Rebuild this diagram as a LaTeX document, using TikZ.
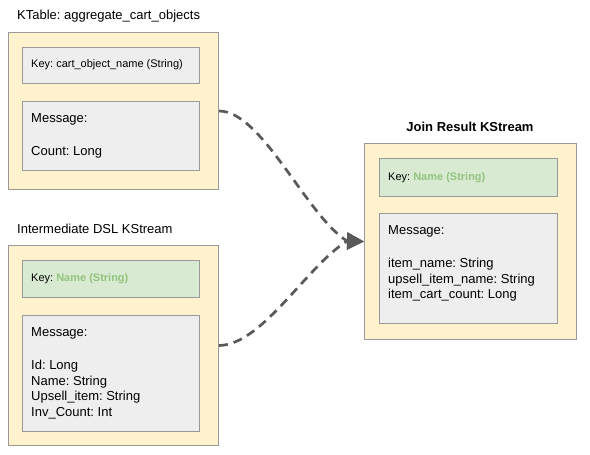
\documentclass[tikz,border=0pt]{standalone}
\usepackage{fontspec}
\setmainfont{Liberation Sans}
\frenchspacing
\usetikzlibrary{arrows.meta}
\definecolor{boxyellow}{HTML}{FFF2CC}
\definecolor{boxgrey}{HTML}{EEEEEE}
\definecolor{boxgreen}{HTML}{D9EAD3}
\definecolor{keytext}{HTML}{93C47D}
\definecolor{edgegrey}{HTML}{999999}
\definecolor{linkgrey}{HTML}{595959}
\begin{document}
\begin{tikzpicture}[x=1pt,y=-1pt,
    outerbox/.style={draw=edgegrey,line width=1pt,fill=boxyellow,anchor=north west,inner sep=0pt,minimum width=#1},
    innerbox/.style={draw=edgegrey,line width=1pt,fill=boxgrey,anchor=north west,inner sep=0pt,minimum width=177pt},
    keybox/.style={innerbox,fill=boxgreen},
    title/.style={font=\fontsize{13}{15.7}\selectfont,anchor=west,inner sep=0pt},
    keylabel/.style={font=\fontsize{11}{13}\selectfont,anchor=west,inner sep=0pt},
    msglabel/.style={font=\fontsize{13}{15.7}\selectfont,align=left,anchor=north west,inner sep=0pt},
    link/.style={draw=linkgrey,line width=2.7pt,dash pattern=on 9pt off 6pt,-{Triangle[length=17pt,width=17pt]}}]
    \useasboundingbox (0,0) rectangle (590,455);

    % KTable
    \node[title] (ktabletitle) at (17,16) {KTable: aggregate\_cart\_objects};
    \node[outerbox=210pt,minimum height=157pt] (ktable) at (8,32) {};
    \node[innerbox,minimum height=36pt] (ktablekey) at (22,47) {};
    \node[innerbox,minimum height=69pt] (ktablemsg) at (22,101) {};
    \node[keylabel] (ktablekeytext) at (31,65) {Key: cart\_object\_name (String)};
    \node[msglabel] (ktablemsgtext) at (31,113.5) {Message:\\[17pt]Count: Long};

    % intermediate stream
    \node[title] (intertitle) at (17,229) {Intermediate DSL KStream};
    \node[outerbox=210pt,minimum height=200pt] (inter) at (8,245) {};
    \node[keybox,minimum height=37pt] (interkey) at (22,260) {};
    \node[innerbox,minimum height=116pt] (intermsg) at (22,315) {};
    \node[keylabel] (interkeytext) at (31,278.5) {Key: \textcolor{keytext}{\bfseries Name (String)}};
    \node[msglabel] (intermsgtext) at (31,327.5) {Message:\\[17pt]Id: Long\\Name: String\\Upsell\_item: String\\Inv\_Count: Int};

    % join result
    \node[title,anchor=center,font=\fontsize{13}{15.7}\selectfont\bfseries] (jointitle) at (470,127) {Join Result KStream};
    \node[outerbox=212pt,minimum height=196pt] (join) at (364,143) {};
    \node[keybox,minimum width=178pt,minimum height=38pt] (joinkey) at (379,158) {};
    \node[innerbox,minimum width=178pt,minimum height=110pt] (joinmsg) at (379,213) {};
    \node[keylabel] (joinkeytext) at (388,177.5) {Key: \textcolor{keytext}{\bfseries Name (String)}};
    \node[msglabel] (joinmsgtext) at (388,225.5) {Message:\\[17pt]item\_name: String\\upsell\_item\_name: String\\item\_cart\_count: Long};

    % joins
    \coordinate (tipbase) at (347,241);
    \draw[link] (ktable.east) .. controls (262,111) and (306,215) .. (tipbase) -- (join.west);
    \draw[link] (inter.east) .. controls (262,345) and (306,267) .. (tipbase) -- (join.west);
\end{tikzpicture}
\end{document}
